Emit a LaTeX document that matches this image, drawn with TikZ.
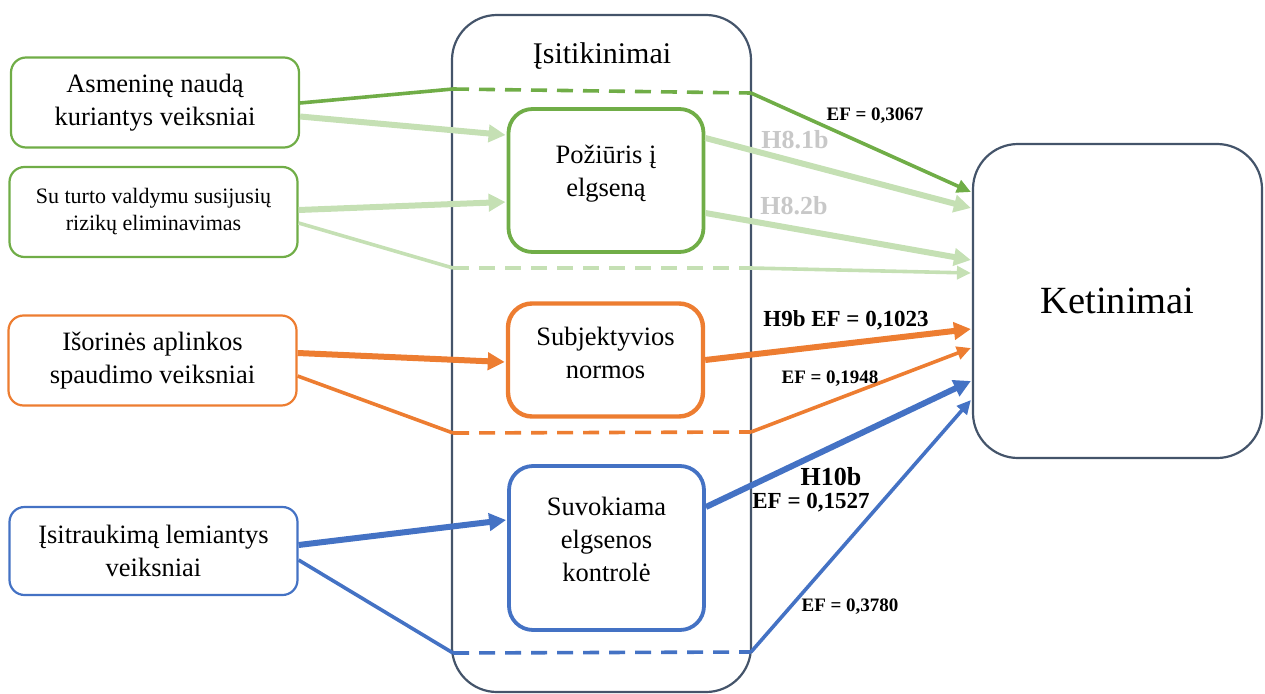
\documentclass[tikz,border=0pt]{standalone}
\usepackage{fontspec}
\setmainfont{Liberation Serif}
\usetikzlibrary{arrows.meta,calc}
\definecolor{grn}{HTML}{70AD47}
\definecolor{lgrn}{HTML}{C5E0B4}
\definecolor{org}{HTML}{ED7D31}
\definecolor{blu}{HTML}{4472C4}
\definecolor{slate}{HTML}{44546A}
\definecolor{hgray}{HTML}{C8C8C8}

\begin{document}
\begin{tikzpicture}[x=1pt,y=-1pt,
  srcbox/.style={draw=#1, line width=2.2pt, rounded corners=15pt, fill=white,
    minimum width=288pt, minimum height=90pt, inner sep=0pt, align=center,
    font=\fontsize{26.5}{33}\selectfont},
  midbox/.style={draw=#1, line width=3.8pt, rounded corners=24pt, fill=white,
    minimum width=195pt, inner sep=0pt},
  midtext/.style={align=center, inner sep=0pt, font=\fontsize{26.5}{33}\selectfont},
  bigarrow/.style={draw=#1, line width=6pt, -{Triangle[length=17pt,width=17pt]}},
  smallarrow/.style={draw=#1, line width=3.6pt, -{Triangle[length=14pt,width=13pt]}},
  feed/.style={draw=#1, line width=3.6pt},
  dashfeed/.style={draw=#1, line width=3.6pt, dash pattern=on 16pt off 10pt},
  eflabel/.style={inner sep=0pt, font=\bfseries\fontsize{19}{22}\selectfont},
  hlabel/.style={inner sep=0pt, font=\bfseries\fontsize{26}{28}\selectfont},
]
\useasboundingbox (0,0) rectangle (1265,693);

% beliefs frame
\node[draw=slate, line width=2.2pt, rounded corners=45pt, minimum width=299pt,
  minimum height=677pt, inner sep=0pt] (frame) at (601.5,353.5) {};
\node[inner sep=0pt, font=\fontsize{30}{33}\selectfont] (title) at (602,56) {Įsitikinimai};

% junctions of the routes that bypass the inner constructs
\coordinate (g1) at (453,89);  \coordinate (g2) at (751,93);
\coordinate (l1) at (453,268); \coordinate (l2) at (751,268);
\coordinate (o1) at (453,433); \coordinate (o2) at (751,432);
\coordinate (b1) at (453,653); \coordinate (b2) at (751,652);

% source factors
\node[srcbox=grn] (A) at (155,102.5) {Asmeninę naudą\\kuriantys veiksniai};
\node[srcbox=grn, font=\fontsize{22}{27}\selectfont] (Bx) at (153.5,212) {Su turto valdymu susijusių\\rizikų eliminavimas};
\node[srcbox=org] (C) at (152.5,360.5) {Išorinės aplinkos\\spaudimo veiksniai};
\node[srcbox=blu, minimum height=88pt] (D) at (153.5,551) {Įsitraukimą lemiantys\\veiksniai};

% inner constructs
\node[midbox=grn, minimum height=143pt] (P) at (606,180.5) {};
\node[midtext] (Pt) at (606,174) {Požiūris į\\elgseną};
\node[midbox=org, line width=4.4pt, minimum height=113pt] (S) at (605.5,360) {};
\node[midtext] (St) at (605.5,353) {Subjektyvios\\normos};
\node[midbox=blu, minimum height=164pt] (K) at (606.5,548) {};
\node[midtext] (Kt) at (606.5,539) {Suvokiama\\elgsenos\\kontrolė};

% intentions
\node[draw=slate, line width=2.2pt, rounded corners=45pt, minimum width=289pt,
  minimum height=314pt, inner sep=0pt, fill=white, font=\fontsize{38.5}{40}\selectfont]
  (T) at (1117.5,301) {Ketinimai};

% direct route of the first factor
\draw[feed=grn] ($(A.east)+(0,0.5)$) -- (g1);
\draw[dashfeed=grn] (g1) -- (g2);
\draw[smallarrow=grn] (g2) -- ($(T.west)+(-1,-109)$);

% light green routes
\draw[bigarrow=lgrn] ($(A.east)+(0,14)$) -- ($(P.west)+(-1,-45.5)$);
\draw[bigarrow=lgrn] ($(Bx.east)+(0,-2)$) -- ($(P.west)+(-1,21.5)$);
\draw[feed=lgrn] ($(Bx.east)+(0,11)$) -- (l1);
\draw[dashfeed=lgrn] (l1) -- (l2);
\draw[smallarrow=lgrn] (l2) -- ($(T.west)+(-1,-28)$);
\draw[bigarrow=lgrn] ($(P.east)+(0,-42.5)$) -- ($(T.west)+(-1,-93)$);
\draw[bigarrow=lgrn] ($(P.east)+(0,32.5)$) -- ($(T.west)+(-1,-41)$);

% orange routes
\draw[bigarrow=org] ($(C.east)+(0,-7.5)$) -- ($(S.west)+(-1,2)$);
\draw[feed=org] ($(C.east)+(0,15.5)$) -- (o1);
\draw[dashfeed=org] (o1) -- (o2);
\draw[smallarrow=org] (o2) -- ($(T.west)+(-1,47)$);
\draw[bigarrow=org] (S.east) -- ($(T.west)+(-1,28)$);

% blue routes
\draw[bigarrow=blu] ($(D.east)+(0,-6)$) -- ($(K.west)+(-1,-28)$);
\draw[feed=blu] ($(D.east)+(0,9)$) -- (b1);
\draw[dashfeed=blu] (b1) -- (b2);
\draw[smallarrow=blu] (b2) -- ($(T.west)+(-1,99)$);
\draw[bigarrow=blu] ($(K.east)+(0,-41)$) -- ($(T.west)+(-1,80)$);

% effect labels
\node[eflabel] (ef1) at (875,116) {EF = 0,3067};
\node[hlabel, text=hgray] (h81) at (795,140) {H8.1b};
\node[hlabel, text=hgray] (h82) at (794,206) {H8.2b};
\node[inner sep=0pt, font=\bfseries\fontsize{23}{26}\selectfont] (h9) at (846,320) {H9b EF = 0,1023};
\node[eflabel] (ef2) at (830,379) {EF = 0,1948};
\node[hlabel] (h10) at (831,477) {H10b};
\node[inner sep=0pt, font=\bfseries\fontsize{23}{26}\selectfont] (ef3) at (811,503) {EF = 0,1527};
\node[eflabel] (ef4) at (850,607) {EF = 0,3780};
\end{tikzpicture}
\end{document}
